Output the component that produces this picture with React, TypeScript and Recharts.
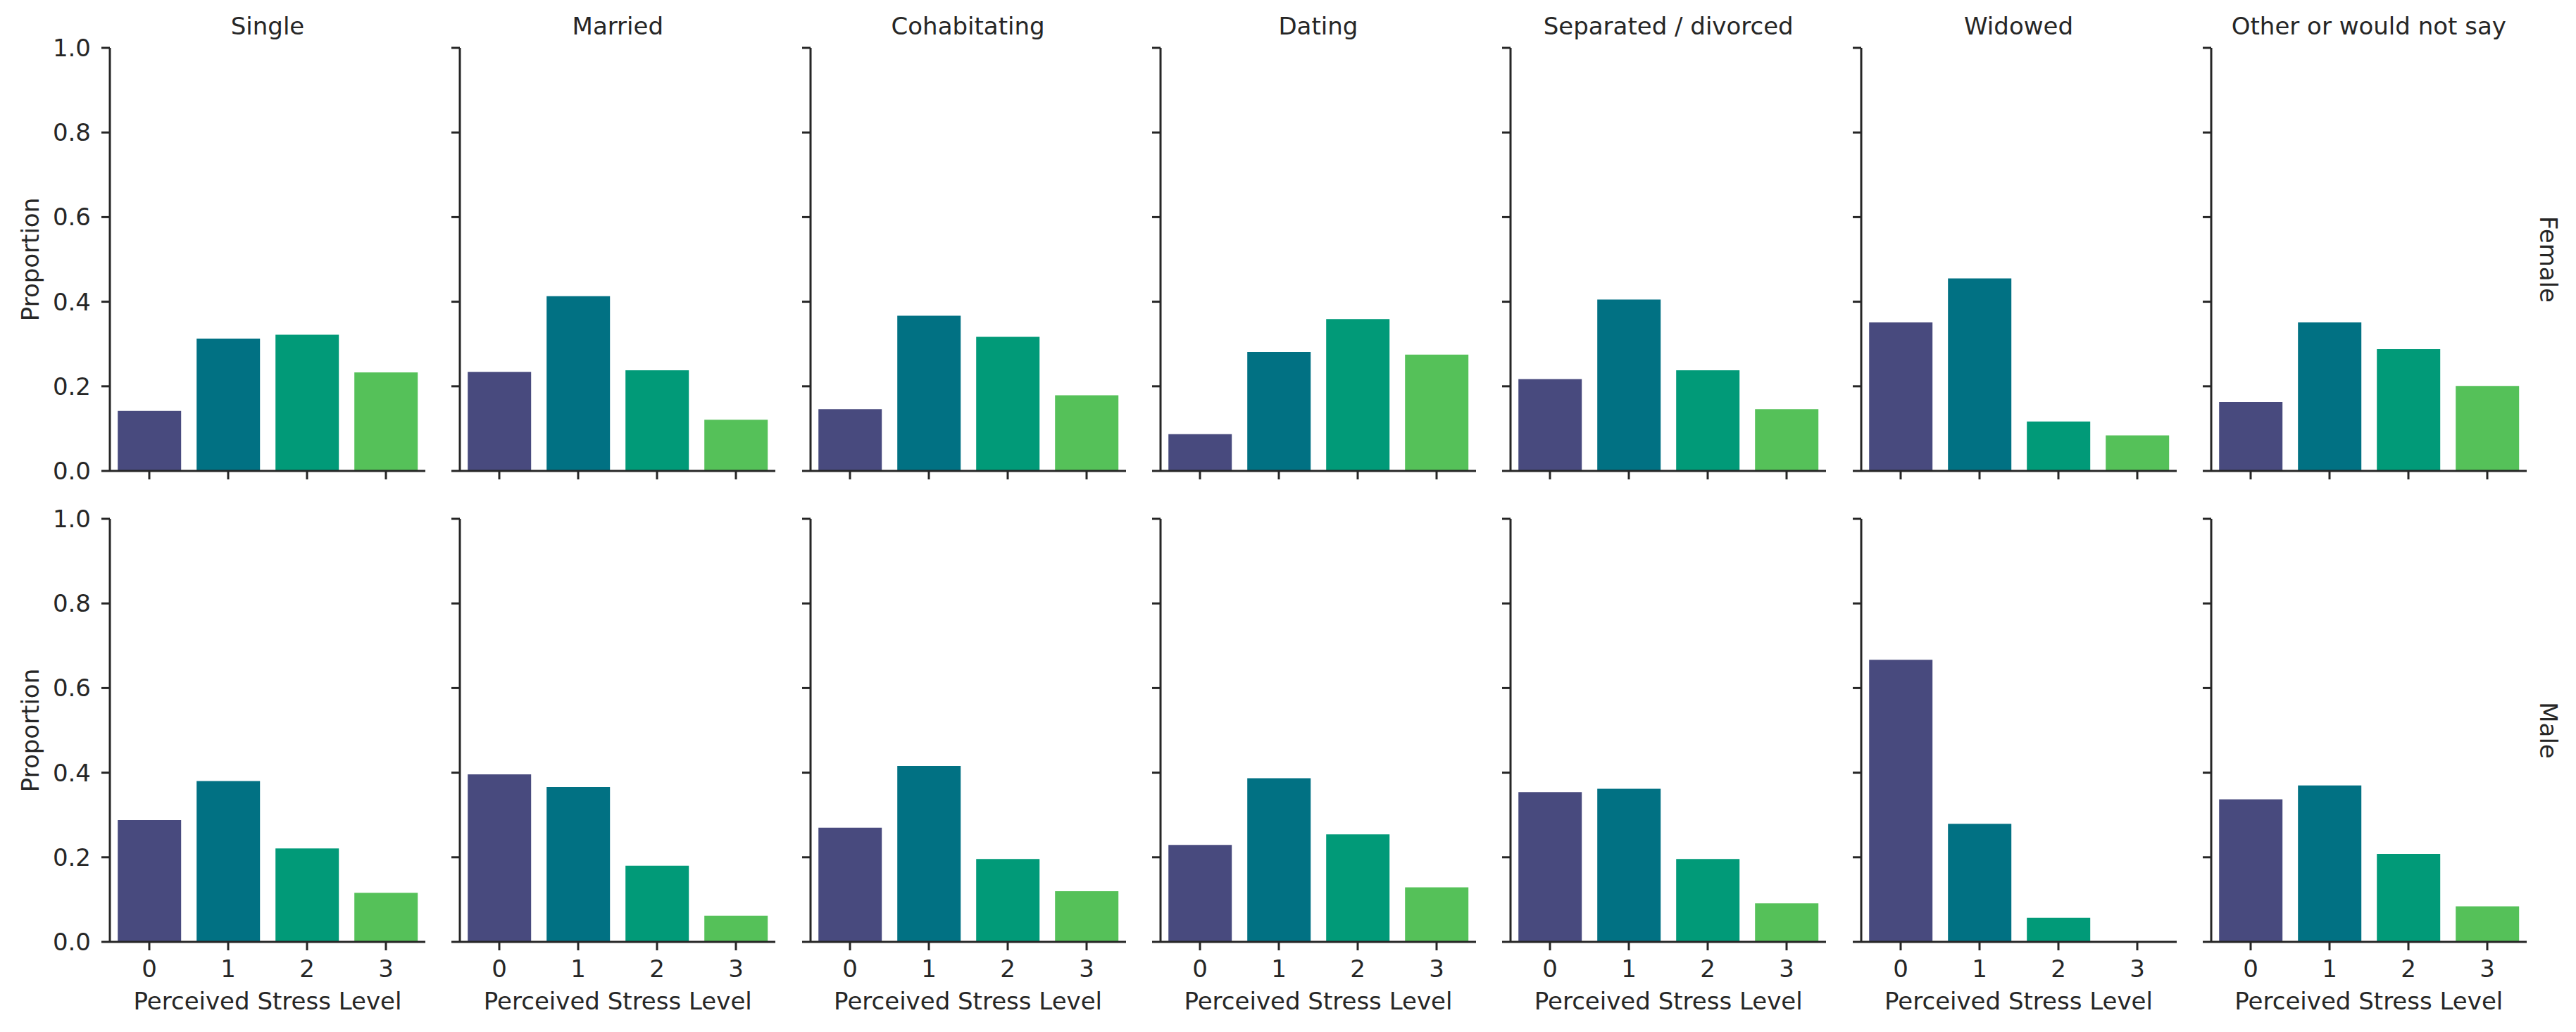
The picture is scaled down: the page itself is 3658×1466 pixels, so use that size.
import React from 'react';
import { BarChart, Bar, XAxis, YAxis, Cell } from 'recharts';

const levels = ['0', '1', '2', '3'];
const statuses = [
  'Single',
  'Married',
  'Cohabitating',
  'Dating',
  'Separated / divorced',
  'Widowed',
  'Other or would not say',
];
const genders = ['Female', 'Male'];
const yTicks = [0, 0.2, 0.4, 0.6, 0.8, 1.0];

const femaleValues = [
  [0.142, 0.313, 0.322, 0.233],
  [0.234, 0.413, 0.238, 0.121],
  [0.146, 0.367, 0.317, 0.179],
  [0.087, 0.281, 0.359, 0.275],
  [0.217, 0.405, 0.238, 0.146],
  [0.351, 0.455, 0.117, 0.084],
  [0.163, 0.351, 0.288, 0.201],
];
const maleValues = [
  [0.288, 0.38, 0.221, 0.116],
  [0.396, 0.366, 0.18, 0.062],
  [0.27, 0.416, 0.196, 0.12],
  [0.229, 0.387, 0.254, 0.129],
  [0.354, 0.362, 0.196, 0.091],
  [0.667, 0.279, 0.057, 0],
  [0.337, 0.37, 0.208, 0.084],
];
const barColors = ['#484A7E', '#017183', '#019A78', '#55C159'];

const FONT = '"DejaVu Sans", sans-serif';
const INK = '#262626';
const FS = 34;

const PLOT_W = 448;
const PLOT_H = 601;
const ROW_TOP = [68, 737];
const PAD_L = 150;
const PAD_T = 20;
const PAD_R = 20;
const PAD_B = 90;
const colLeft = (i: number) => 156 + i * 497.3;

function Panel({ values, col, row }: { values: number[]; col: number; row: number }) {
  const data = levels.map((l, k) => ({ level: l, value: values[k] }));
  const lineStyle = { stroke: INK, strokeWidth: 3 };
  const tickStyle = { fill: INK, fontSize: FS, fontFamily: FONT };
  const showX = row === 1;
  const showY = col === 0;
  return (
    <div style={{ position: 'absolute', left: colLeft(col) - PAD_L, top: ROW_TOP[row] - PAD_T }}>
      <BarChart
        width={PAD_L + PLOT_W + PAD_R}
        height={PAD_T + PLOT_H + PAD_B}
        data={data}
        margin={{ top: PAD_T, right: PAD_R, bottom: 0, left: 0 }}
        barCategoryGap="10%"
      >
        <XAxis
          dataKey="level"
          height={PAD_B}
          interval={0}
          axisLine={lineStyle}
          tickLine={lineStyle}
          tickSize={12}
          tickMargin={14}
          tick={tickStyle}
          tickFormatter={(v: string) => (showX ? v : '')}
        />
        <YAxis
          type="number"
          width={PAD_L}
          domain={[0, 1]}
          ticks={yTicks}
          interval={0}
          tickFormatter={(v: number) => (showY ? v.toFixed(1) : '')}
          axisLine={lineStyle}
          tickLine={lineStyle}
          tickSize={12}
          tickMargin={15}
          tick={tickStyle}
        />
        <Bar dataKey="value" isAnimationActive={false}>
          {data.map((d, k) => (
            <Cell key={d.level} fill={barColors[k]} />
          ))}
        </Bar>
      </BarChart>
    </div>
  );
}

export default function App() {
  const rows = [femaleValues, maleValues];
  return (
    <div
      style={{
        position: 'absolute',
        left: 0,
        top: 0,
        width: 3658,
        height: 1466,
        background: '#ffffff',
        overflow: 'hidden',
      }}
    >
      {rows.map((vals, r) =>
        statuses.map((s, c) => <Panel key={`${r}-${c}`} values={vals[c]} col={c} row={r} />)
      )}
      <svg
        width={3658}
        height={1466}
        style={{ position: 'absolute', left: 0, top: 0, pointerEvents: 'none' }}
        fontFamily={FONT}
        fontSize={FS}
        fill={INK}
      >
        {statuses.map((s, c) => (
          <text key={`t-${s}`} x={colLeft(c) + PLOT_W / 2} y={49} textAnchor="middle">
            {s}
          </text>
        ))}
        {statuses.map((s, c) => (
          <text key={`x-${s}`} x={colLeft(c) + PLOT_W / 2} y={1434} textAnchor="middle">
            Perceived Stress Level
          </text>
        ))}
        {genders.map((g, r) => (
          <g key={`p-${g}`}>
            <text
              transform={`translate(55, ${ROW_TOP[r] + PLOT_H / 2}) rotate(-90)`}
              textAnchor="middle"
            >
              Proportion
            </text>
            <text
              transform={`translate(3607, ${ROW_TOP[r] + PLOT_H / 2}) rotate(90)`}
              textAnchor="middle"
            >
              {g}
            </text>
          </g>
        ))}
      </svg>
    </div>
  );
}
